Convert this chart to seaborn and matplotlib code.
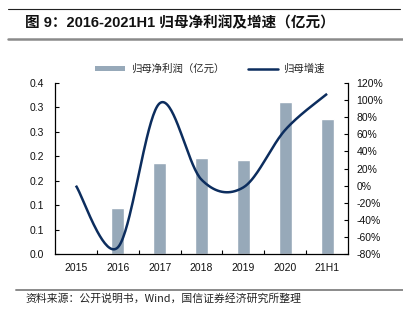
import numpy as np
import pandas as pd
import matplotlib
matplotlib.use("Agg")
import matplotlib.pyplot as plt
from matplotlib.lines import Line2D
from matplotlib.patches import Patch
import seaborn as sns

categories = ["2015", "2016", "2017", "2018", "2019", "2020", "21H1"]
profit = [np.nan, 0.095, 0.186, 0.196, 0.192, 0.311, 0.276]   # 归母净利润（亿元）
growth = [0.0, -72.0, 96.0, 7.0, -2.0, 65.0, 107.0]          # 归母增速 (%)
left_ticks = [0.0, 0.05, 0.10, 0.15, 0.20, 0.25, 0.30, 0.35]
left_labels = ["0.0", "0.1", "0.1", "0.2", "0.2", "0.3", "0.3", "0.4"]
right_ticks = [-80, -60, -40, -20, 0, 20, 40, 60, 80, 100, 120]

title = "图 9：2016-2021H1 归母净利润及增速（亿元）"
source = "资料来源：公开说明书，Wind，国信证券经济研究所整理"
bar_label = "归母净利润（亿元）"
line_label = "归母增速"

BAR_C = "#97a9b9"
LINE_C = "#0c2d5e"
LAT = ["Liberation Sans", "Noto Sans CJK SC"]
CJK = ["Noto Sans CJK SC", "Liberation Sans"]

sns.set_theme(style="white")
plt.rcParams["font.family"] = LAT

fig = plt.figure(figsize=(4.03, 3.25), dpi=100)
ax = fig.add_axes([55/403, 1-254.3/325, (348-55)/403, (254.3-82.7)/325])

df = pd.DataFrame({"cat": categories, "profit": profit})
sns.barplot(data=df, x="cat", y="profit", order=categories, color=BAR_C,
            saturation=1, width=0.31, ax=ax)
ax.set_ylim(0, 0.35)
ax.set_xlim(-0.5, len(categories)-0.5)
ax.set_yticks(left_ticks)
ax.set_yticklabels(left_labels)
ax.set_xlabel("")
ax.set_ylabel("")

# Excel-like smoothed line (Catmull-Rom via Bezier)
ax2 = ax.twinx()
xs_all, ys_all = [], []
n = len(growth)
P = [(i, g) for i, g in enumerate(growth)]
for i in range(n-1):
    p0 = P[i-1] if i > 0 else P[i]
    p1, p2 = P[i], P[i+1]
    p3 = P[i+2] if i+2 < n else P[i+1]
    c1 = (p1[0] + (p2[0]-p0[0])/6, p1[1] + (p2[1]-p0[1])/6)
    c2 = (p2[0] - (p3[0]-p1[0])/6, p2[1] - (p3[1]-p1[1])/6)
    t = np.linspace(0, 1, 40)
    bx = (1-t)**3*p1[0] + 3*(1-t)**2*t*c1[0] + 3*(1-t)*t**2*c2[0] + t**3*p2[0]
    by = (1-t)**3*p1[1] + 3*(1-t)**2*t*c1[1] + 3*(1-t)*t**2*c2[1] + t**3*p2[1]
    xs_all.extend(bx); ys_all.extend(by)
ax2.plot(xs_all, ys_all, color=LINE_C, lw=1.8, solid_capstyle="butt")
ax2.set_ylim(-80, 120)
ax2.set_yticks(right_ticks)
ax2.set_yticklabels([f"{v}%" for v in right_ticks])

for a in (ax, ax2):
    for s in a.spines.values():
        s.set_visible(False)
ax.spines["left"].set_visible(True)
ax.spines["bottom"].set_visible(True)
ax2.spines["right"].set_visible(True)
for s in ("left", "bottom"):
    ax.spines[s].set_color("#000000"); ax.spines[s].set_linewidth(0.9)
ax2.spines["right"].set_color("#000000"); ax2.spines["right"].set_linewidth(0.9)

ax.tick_params(axis="y", direction="in", length=3, width=0.8, color="black",
               labelsize=7.5, labelcolor="#111111", pad=8, left=True)
ax2.tick_params(axis="y", direction="in", length=3, width=0.8, color="black",
                labelsize=7.5, labelcolor="#111111", pad=6, right=True)
ax.set_xticks(range(len(categories)))
ax.set_xticklabels(categories)
ax.set_xticks([i+0.5 for i in range(len(categories)-1)], minor=True)
ax.tick_params(axis="x", which="major", length=0, labelsize=7.5,
               labelcolor="#111111", pad=6)
ax.tick_params(axis="x", which="minor", direction="in", length=3, width=0.8,
               color="black", bottom=True)

handles = [Patch(facecolor=BAR_C, edgecolor="none"),
           Line2D([0], [0], color=LINE_C, lw=1.8)]
fig.legend(handles, [bar_label, line_label], loc="center left",
           bbox_to_anchor=(88/403, 1-69/325), ncol=2, frameon=False,
           prop={"family": CJK, "size": 7.5}, handlelength=2.9,
           handleheight=0.5, columnspacing=2.3, handletextpad=0.5,
           borderpad=0.2)

fig.add_artist(Line2D([8/403, 400/403], [1-9/325]*2, color="#222222", lw=0.8))
fig.add_artist(Line2D([8/403, 403/403], [1-38.5/325]*2, color="#8a8a8a", lw=1.8))
fig.add_artist(Line2D([16/403, 403/403], [1-290/325]*2, color="#8a8a8a", lw=1.4))
fig.text(25/403, 1-23/325, title, ha="left", va="center", fontsize=10.5,
         fontweight="bold", family=LAT, color="#111111")
fig.text(25/403, 1-298/325, source, ha="left", va="center", fontsize=7.8,
         family=CJK, color="#222222")

fig.savefig("out.png", dpi=100)
